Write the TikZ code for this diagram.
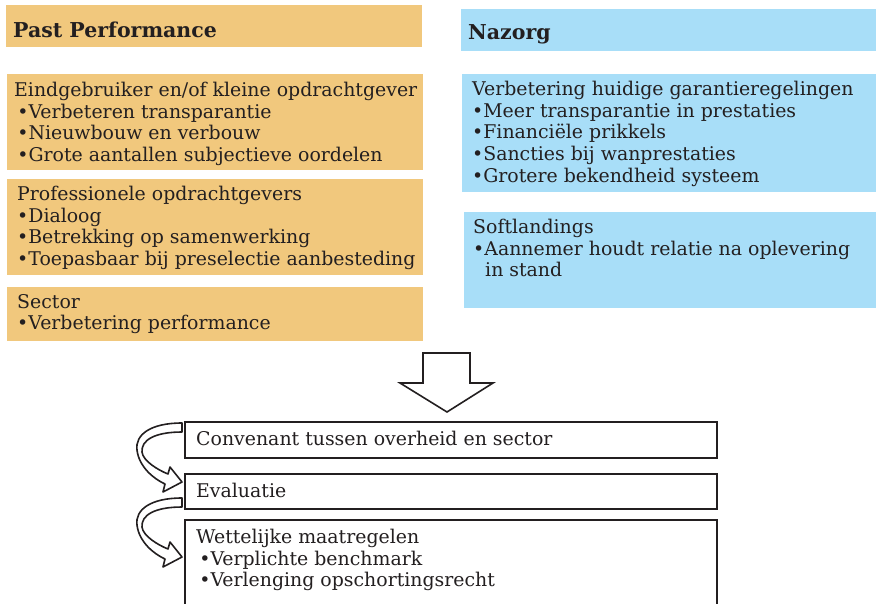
\documentclass[tikz,border=0pt]{standalone}
\usepackage{fontspec}
\setmainfont{DejaVu Serif}
\usetikzlibrary{positioning}

\definecolor{pporange}{RGB}{241,200,125}
\definecolor{nzblue}{RGB}{168,222,248}
\definecolor{ink}{RGB}{35,31,32}

\newcommand\bodyfont{\fontsize{18.9}{21.7}\selectfont}
\newcommand\headfont{\fontsize{20.5}{24}\selectfont\bfseries}

\tikzset{
  pbox/.style={fill=pporange, anchor=north west, inner sep=0pt, outer sep=0pt},
  nbox/.style={fill=nzblue, anchor=north west, inner sep=0pt, outer sep=0pt},
  stepframe/.style={draw=ink, line width=2.2pt, fill=white, anchor=north west,
    inner sep=0pt, minimum width=532pt},
  txt/.style={anchor=north west, inner sep=0pt, align=left, font=\bodyfont, text=ink},
  hdr/.style={anchor=west, inner sep=0pt, font=\headfont, text=ink},
  blockline/.style={draw=ink, line width=1.6pt, fill=white, line join=miter},
  turn/.pic={
    \draw[blockline, line join=round]
      (0,0) .. controls (-32,0) and (-47,12) .. (-45,27)
      .. controls (-43,44) and (-28,56) .. (-17,61)
      -- (-19,69) -- (0,59) -- (-12,44) -- (-14,51)
      .. controls (-24,47) and (-39,38) .. (-40,29)
      .. controls (-41,17) and (-27,9) .. (0,9) -- cycle;
  }
}

\begin{document}
\begin{tikzpicture}[x=1pt, y=-1pt]
  \clip (0,0) rectangle (876,603);
  \fill[white] (0,0) rectangle (876,603);

  % Past Performance
  \node[pbox, minimum width=416pt, minimum height=42pt] (pp) at (6,5) {};
  \node[hdr] (pptitle) at ([shift={(7pt,-4pt)}]pp.west) {Past Performance};
  \node[pbox, minimum width=416pt, minimum height=96pt] (eind) at (7,74) {};
  \node[txt] (eindtxt) at ([shift={(7pt,-8pt)}]eind.north west)
    {Eindgebruiker en/of kleine opdrachtgever\\
     \,•Verbeteren transparantie\\
     \,•Nieuwbouw en verbouw\\
     \,•Grote aantallen subjectieve oordelen};
  \node[pbox, minimum width=416pt, minimum height=96pt] (prof) at (7,179) {};
  \node[txt] (proftxt) at ([shift={(10pt,-7pt)}]prof.north west)
    {Professionele opdrachtgevers\\
     •Dialoog\\
     •Betrekking op samenwerking\\
     •Toepasbaar bij preselectie aanbesteding};
  \node[pbox, minimum width=416pt, minimum height=54pt] (sect) at (7,287) {};
  \node[txt] (secttxt) at ([shift={(10pt,-7pt)}]sect.north west)
    {Sector\\
     •Verbetering performance};

  % Nazorg
  \node[nbox, minimum width=416pt, minimum height=42pt] (nz) at (461,9) {};
  \node[hdr] (nztitle) at ([shift={(7pt,-4pt)}]nz.west) {Nazorg};
  \node[nbox, minimum width=414pt, minimum height=118pt] (garant) at (462,74) {};
  \node[txt] (garanttxt) at ([shift={(10pt,-7pt)}]garant.north west)
    {Verbetering huidige garantieregelingen\\
     •Meer transparantie in prestaties\\
     •Financiële prikkels\\
     •Sancties bij wanprestaties\\
     •Grotere bekendheid systeem};
  \node[nbox, minimum width=412pt, minimum height=96pt] (soft) at (464,212) {};
  \node[txt] (softtxt) at ([shift={(9pt,-7pt)}]soft.north west)
    {Softlandings\\
     •Aannemer houdt relatie na oplevering\\
     \hspace{12pt}in stand};

  % big arrow
  \draw[blockline] (423,353) -- (470,353) -- (470,383) -- (493,383)
    -- (447,412) -- (400,383) -- (423,383) -- cycle;

  % steps
  \node[stepframe, minimum height=36pt] (conv) at (184,421) {};
  \node[txt] (convtxt) at ([shift={(12pt,-10pt)}]conv.north west)
    {Convenant tussen overheid en sector};
  \node[stepframe, minimum height=35pt] (eval) at (184,473) {};
  \node[txt] (evaltxt) at ([shift={(12pt,-10pt)}]eval.north west)
    {Evaluatie};
  \node[stepframe, minimum height=100pt] (wet) at (184,519) {};
  \node[txt] (wettxt) at ([shift={(12pt,-10pt)}]wet.north west)
    {Wettelijke maatregelen\\
     \,•Verplichte benchmark\\
     \,•Verlenging opschortingsrecht};

  \pic at (182,423) {turn};
  \pic at (182,498) {turn};
\end{tikzpicture}
\end{document}
